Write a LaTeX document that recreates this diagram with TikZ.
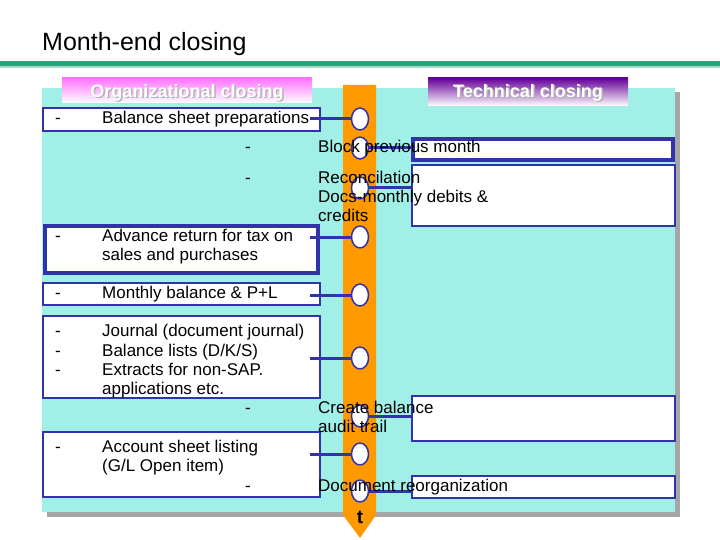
\documentclass[tikz,border=0pt]{standalone}
\usepackage{fontspec}
\setmainfont{Liberation Sans}
\usetikzlibrary{positioning, shapes.geometric}
\definecolor{panel}{RGB}{160,240,232}
\definecolor{edgeblue}{RGB}{50,50,170}
\definecolor{barorange}{RGB}{255,153,0}
\definecolor{rulegreen}{RGB}{40,160,120}
\tikzset{
x=1pt, y=-1pt,
every node/.style={font=\fontsize{17}{19}\selectfont, inner sep=0pt, text height=12pt, text depth=3.5pt},
box/.style={draw=edgeblue, fill=white, line width=1.5pt},
thickbox/.style={draw=edgeblue, fill=white, line width=3.5pt},
stop/.style={ellipse, draw=edgeblue, fill=white, line width=1.5pt, minimum width=17pt, minimum height=20pt},
link/.style={draw=edgeblue, line width=3pt},
item/.style={anchor=west},
header/.style={font=\fontsize{18}{20}\selectfont\bfseries, text=white},
}
\begin{document}
\begin{tikzpicture}
\useasboundingbox (0,0) rectangle (720,540);
% title and rule
\node[anchor=west, font=\fontsize{25}{27}\selectfont, text height=17pt, text depth=5pt] (title) at (42,45) {Month-end closing};
\fill[rulegreen] (0,61) rectangle (720,66);
\fill[rulegreen!40] (0,66) rectangle (720,68);
% panel with shadow
\fill[gray!70] (47,92) rectangle (680,517);
\fill[panel] (42,88) rectangle (675,512);
% headers
\shade[top color=magenta!55, bottom color=white] (62,78) rectangle (312,103);
\shade[top color=violet!80!blue, bottom color=white] (428,78) rectangle (628,106);
\node[header, text=gray!60] at (188.5,94.5) {Organizational closing};
\node[header] (org) at (187,93) {Organizational closing};
\node[header, text=gray!60] at (529.5,94.5) {Technical closing};
\node[header] (tech) at (528,93) {Technical closing};
% time bar
\fill[barorange] (343,85) -- (376,85) -- (376,515) -- (360,538) -- (343,515) -- cycle;
\node[font=\fontsize{19}{21}\selectfont\bfseries] (t) at (360,519) {t};
% boxes
\path[box] (43,108) rectangle (320,131);
\path[thickbox] (413,139) rectangle (673,160);
\path[box] (412,165) rectangle (675,226);
\path[thickbox] (45,226) rectangle (318,273);
\path[box] (43,283) rectangle (320,305);
\path[box] (43,316) rectangle (320,398);
\path[box] (412,396) rectangle (675,441);
\path[box] (43,432) rectangle (320,497);
\path[box] (412,476) rectangle (675,498);
% stops on the bar
\foreach \name/\y in {s1/119, s2/148, s3/188, s4/237, s5/295, s6/358, s7/416, s8/454, s9/491}
  \node[stop] (\name) at (360,\y) {};
% links
\draw[link] (310,119) -- (s1);
\draw[link] (s2) -- (413,148);
\draw[link] (s3) -- (412,188);
\draw[link] (310,237) -- (s4);
\draw[link] (310,295) -- (s5);
\draw[link] (310,358) -- (s6);
\draw[link] (s7) -- (412,416);
\draw[link] (310,454) -- (s8);
\draw[link] (s9) -- (412,491);
% left items
\foreach \y in {119,237,294,332,352,371,448} \node at (58,\y) {-};
\node[item] (bal) at (102,119) {Balance sheet preparations};
\node[item] (adv1) at (102,237) {Advance return for tax on};
\node[item] (adv2) at (102,256) {sales and purchases};
\node[item] (mon) at (102,294) {Monthly balance \& P+L};
\node[item] (jr1) at (102,332) {Journal (document journal)};
\node[item] (jr2) at (102,352) {Balance lists (D/K/S)};
\node[item] (jr3) at (102,371) {Extracts for non-SAP.};
\node[item] (jr4) at (102,390) {applications etc.};
\node[item] (acc1) at (102,448) {Account sheet listing};
\node[item] (acc2) at (102,467) {(G/L Open item)};
% right items
\foreach \y in {148,179,409,487} \node at (248,\y) {-};
\node[item] (blk) at (318,148) {Block previous month};
\node[item] (rec1) at (318,179) {Reconcilation};
\node[item] (rec2) at (318,198) {Docs-monthly debits \&};
\node[item] (rec3) at (318,217) {credits};
\node[item] (cre1) at (318,409) {Create balance};
\node[item] (cre2) at (318,428) {audit trail};
\node[item] (doc) at (318,487) {Document reorganization};
\end{tikzpicture}
\end{document}
